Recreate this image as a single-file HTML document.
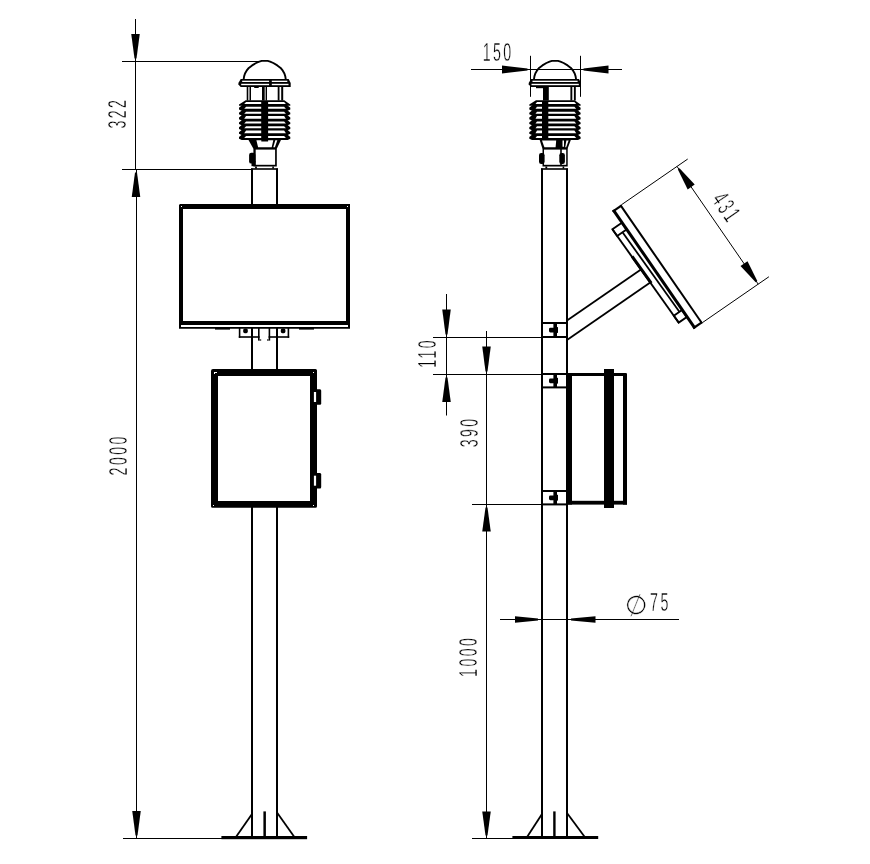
<!DOCTYPE html>
<html><head><meta charset="utf-8"><title>drawing</title>
<style>
html,body{margin:0;padding:0;background:#fff;}
svg{display:block;filter:grayscale(1)}
.t{font-family:"Liberation Sans","DejaVu Sans",sans-serif;}
line{stroke:#000}
</style></head><body>
<svg width="870" height="864" viewBox="0 0 870 864">
<rect x="0" y="0" width="870" height="864" fill="#fff"/>
<path d="M243.60 79.60 L244.10 76.40 L245.00 73.50 L246.60 70.70 L248.80 67.90 L252.10 65.40 L256.10 63.00 L259.30 61.60 L261.70 60.90 L267.70 60.90 L270.10 61.60 L273.30 63.00 L277.30 65.40 L280.60 67.90 L282.80 70.70 L284.40 73.50 L285.30 76.40 L285.80 79.60" fill="none" stroke="#000" stroke-width="1.9" stroke-linejoin="round"/>
<polygon points="238.40,82.90 240.70,79.00 288.70,79.00 290.70,82.90 290.70,86.90 240.70,86.90 238.40,84.50" fill="#000" stroke="none" stroke-width="1" />
<rect x="242.20" y="80.70" width="45.10" height="1.30" fill="#fff" stroke="none" />
<rect x="241.20" y="83.80" width="47.30" height="1.40" fill="#fff" stroke="none" />
<rect x="269.10" y="79.50" width="2.70" height="7.00" fill="#000" stroke="none" />
<rect x="246.70" y="86.50" width="1.60" height="14.00" fill="#000" stroke="none" />
<rect x="249.50" y="86.50" width="1.50" height="14.00" fill="#000" stroke="none" />
<rect x="262.00" y="86.50" width="2.70" height="14.00" fill="#000" stroke="none" />
<rect x="265.60" y="86.50" width="1.40" height="14.00" fill="#000" stroke="none" />
<rect x="277.70" y="86.50" width="1.80" height="14.00" fill="#000" stroke="none" />
<rect x="281.20" y="86.50" width="2.00" height="14.00" fill="#000" stroke="none" />
<rect x="254.20" y="86.90" width="4.50" height="1.10" fill="#000" stroke="none" />
<polygon points="245.70,100.20 284.30,100.20 290.30,104.40 290.30,105.80 239.00,105.80 239.00,104.40" fill="#000" stroke="none" stroke-width="1" />
<polygon points="242.30,105.07 287.10,105.07 290.30,107.87 290.30,109.47 287.70,110.67 241.70,110.67 239.00,109.47 239.00,107.87" fill="#000" stroke="none" stroke-width="1" />
<polygon points="242.30,109.94 287.10,109.94 290.30,112.74 290.30,114.34 287.70,115.54 241.70,115.54 239.00,114.34 239.00,112.74" fill="#000" stroke="none" stroke-width="1" />
<polygon points="242.30,114.81 287.10,114.81 290.30,117.61 290.30,119.21 287.70,120.41 241.70,120.41 239.00,119.21 239.00,117.61" fill="#000" stroke="none" stroke-width="1" />
<polygon points="242.30,119.68 287.10,119.68 290.30,122.48 290.30,124.08 287.70,125.28 241.70,125.28 239.00,124.08 239.00,122.48" fill="#000" stroke="none" stroke-width="1" />
<polygon points="242.30,124.55 287.10,124.55 290.30,127.35 290.30,128.95 287.70,130.15 241.70,130.15 239.00,128.95 239.00,127.35" fill="#000" stroke="none" stroke-width="1" />
<polygon points="242.30,129.42 287.10,129.42 290.30,132.22 290.30,133.82 287.70,135.02 241.70,135.02 239.00,133.82 239.00,132.22" fill="#000" stroke="none" stroke-width="1" />
<polygon points="242.30,134.29 287.10,134.29 290.30,137.09 290.30,138.69 287.70,139.89 241.70,139.89 239.00,138.69 239.00,137.09" fill="#000" stroke="none" stroke-width="1" />
<polygon points="246.10,101.90 261.20,101.90 261.20,103.90 244.20,103.90" fill="#fff" stroke="none" stroke-width="1" />
<polygon points="268.10,101.90 284.10,101.90 285.90,103.90 268.10,103.90" fill="#fff" stroke="none" stroke-width="1" />
<polygon points="246.10,106.77 261.20,106.77 261.20,108.77 244.20,108.77" fill="#fff" stroke="none" stroke-width="1" />
<polygon points="268.10,106.77 284.10,106.77 285.90,108.77 268.10,108.77" fill="#fff" stroke="none" stroke-width="1" />
<polygon points="246.10,111.64 261.20,111.64 261.20,113.64 244.20,113.64" fill="#fff" stroke="none" stroke-width="1" />
<polygon points="268.10,111.64 284.10,111.64 285.90,113.64 268.10,113.64" fill="#fff" stroke="none" stroke-width="1" />
<polygon points="246.10,116.01 261.20,116.01 261.20,118.71 244.20,118.71" fill="#fff" stroke="none" stroke-width="1" />
<polygon points="268.10,116.01 284.10,116.01 285.90,118.71 268.10,118.71" fill="#fff" stroke="none" stroke-width="1" />
<polygon points="246.10,121.38 261.20,121.38 261.20,123.38 244.20,123.38" fill="#fff" stroke="none" stroke-width="1" />
<polygon points="268.10,121.38 284.10,121.38 285.90,123.38 268.10,123.38" fill="#fff" stroke="none" stroke-width="1" />
<polygon points="246.10,126.25 261.20,126.25 261.20,128.25 244.20,128.25" fill="#fff" stroke="none" stroke-width="1" />
<polygon points="268.10,126.25 284.10,126.25 285.90,128.25 268.10,128.25" fill="#fff" stroke="none" stroke-width="1" />
<polygon points="246.10,130.62 261.20,130.62 261.20,133.32 244.20,133.32" fill="#fff" stroke="none" stroke-width="1" />
<polygon points="268.10,130.62 284.10,130.62 285.90,133.32 268.10,133.32" fill="#fff" stroke="none" stroke-width="1" />
<polygon points="246.10,135.99 261.20,135.99 261.20,137.99 244.20,137.99" fill="#fff" stroke="none" stroke-width="1" />
<polygon points="268.10,135.99 284.10,135.99 285.90,137.99 268.10,137.99" fill="#fff" stroke="none" stroke-width="1" />
<polygon points="248.20,139.60 281.20,139.60 276.90,148.60 253.30,148.60" fill="#000" stroke="none" stroke-width="1" />
<polygon points="256.40,140.20 261.30,140.20 261.30,141.60 268.10,141.60 268.10,140.20 273.30,140.20 271.70,147.30 258.10,147.30" fill="#fff" stroke="none" stroke-width="1" />
<polygon points="275.30,140.20 277.30,140.20 274.90,147.30 273.30,147.30" fill="#fff" stroke="none" stroke-width="1" />
<rect x="253.40" y="148.00" width="23.40" height="18.50" fill="#000" stroke="none" />
<rect x="255.70" y="149.60" width="19.40" height="15.20" fill="#fff" stroke="none" />
<rect x="249.10" y="152.8" width="6.3" height="10.8" rx="2.2" fill="#000"/>
<rect x="251.50" y="161.00" width="3.90" height="5.20" fill="#000" stroke="none" />
<rect x="255.10" y="166.50" width="1.80" height="2.10" fill="#000" stroke="none" />
<rect x="272.30" y="166.50" width="1.60" height="2.10" fill="#000" stroke="none" />
<rect x="251.00" y="168.60" width="2.00" height="36.40" fill="#000" stroke="none" />
<rect x="251.00" y="328.00" width="2.00" height="42.00" fill="#000" stroke="none" />
<rect x="251.00" y="507.00" width="2.00" height="329.50" fill="#000" stroke="none" />
<rect x="276.00" y="168.60" width="2.00" height="36.40" fill="#000" stroke="none" />
<rect x="276.00" y="328.00" width="2.00" height="42.00" fill="#000" stroke="none" />
<rect x="276.00" y="507.00" width="2.00" height="329.50" fill="#000" stroke="none" />
<rect x="251.00" y="168.20" width="27.00" height="1.60" fill="#000" stroke="none" />
<path fill="#000" fill-rule="evenodd" d="M180 204H350V328.8H179V205Z M183 209V321H346V209Z M181 325H348V327H181Z"/>
<rect x="181.00" y="206.00" width="1.00" height="1.00" fill="#fff" stroke="none" />
<rect x="347.00" y="206.00" width="1.00" height="1.00" fill="#fff" stroke="none" />
<rect x="299.00" y="328.00" width="15.00" height="1.60" fill="#000" stroke="none" />
<rect x="215.00" y="328.00" width="15.00" height="1.60" fill="#000" stroke="none" />
<rect x="238.80" y="328.00" width="1.60" height="9.80" fill="#000" stroke="none" />
<rect x="287.60" y="328.00" width="1.60" height="9.80" fill="#000" stroke="none" />
<rect x="238.80" y="336.20" width="20.80" height="1.60" fill="#000" stroke="none" />
<rect x="268.60" y="336.20" width="20.60" height="1.60" fill="#000" stroke="none" />
<rect x="258.00" y="328.00" width="1.60" height="12.60" fill="#000" stroke="none" />
<rect x="268.60" y="328.00" width="1.60" height="12.60" fill="#000" stroke="none" />
<rect x="259.60" y="339.40" width="1.60" height="1.20" fill="#000" stroke="none" />
<rect x="267.00" y="339.40" width="1.60" height="1.20" fill="#000" stroke="none" />
<rect x="243.2" y="328.4" width="4.6" height="4.8" rx="1.6" fill="#000"/>
<rect x="280.8" y="328.4" width="4.6" height="4.8" rx="1.6" fill="#000"/>
<path fill="#000" fill-rule="evenodd" d="M213 369H315.5Q317 369 317 370.5V506.3Q317 507.8 315.5 507.8H212.5Q211 507.8 211 506.3V371Q211 369 213 369Z M218 376V501H310V376Z"/>
<rect x="313.00" y="372.00" width="1.00" height="1.00" fill="#fff" stroke="none" />
<rect x="213.00" y="505.00" width="1.00" height="1.00" fill="#fff" stroke="none" />
<rect x="313.00" y="505.00" width="1.00" height="1.00" fill="#fff" stroke="none" />
<rect x="214.00" y="372.00" width="3.00" height="1.00" fill="#fff" stroke="none" />
<rect x="214.00" y="372.00" width="1.00" height="2.00" fill="#fff" stroke="none" />
<path fill="#000" d="M316 389.3H320Q321.2 389.3 321.2 390.8V403.3Q321.2 404.8 320 404.8H316Z"/>
<rect x="313.90" y="392.00" width="2.20" height="10.00" fill="#fff" stroke="none" />
<path fill="#000" d="M316 473.0H320Q321.2 473.0 321.2 474.5V487.0Q321.2 488.5 320 488.5H316Z"/>
<rect x="313.90" y="475.70" width="2.20" height="10.00" fill="#fff" stroke="none" />
<rect x="221.40" y="836.00" width="85.70" height="3.20" fill="#000" stroke="none" />
<line x1="252.00" y1="814.00" x2="236.30" y2="836.50" stroke-width="1.8" />
<line x1="277.00" y1="812.60" x2="294.00" y2="836.50" stroke-width="1.8" />
<rect x="263.40" y="811.40" width="2.50" height="25.10" fill="#000" stroke="none" />
<rect x="135.00" y="19.00" width="1.00" height="151.00" fill="#000" stroke="none" />
<rect x="136.00" y="170.00" width="1.00" height="669.00" fill="#000" stroke="none" />
<rect x="122.00" y="61.00" width="136.00" height="1.00" fill="#000" stroke="none" />
<rect x="122.00" y="169.00" width="130.00" height="1.00" fill="#000" stroke="none" />
<rect x="123.00" y="838.00" width="99.00" height="1.00" fill="#000" stroke="none" />
<polygon points="136.50,58.50 139.75,34.00 131.25,34.00 134.50,58.50" fill="#000" stroke="none" stroke-width="1" />
<polygon points="135.00,172.50 131.75,197.00 140.25,197.00 137.00,172.50" fill="#000" stroke="none" stroke-width="1" />
<polygon points="137.50,835.50 140.75,811.00 132.25,811.00 135.50,835.50" fill="#000" stroke="none" stroke-width="1" />
<text transform="translate(126.40 114.30) rotate(-90) scale(0.56 1)" x="2.15" font-size="25.4" letter-spacing="4.3" text-anchor="middle" fill="#000" stroke="#fff" stroke-width="0.45" class="t">322</text>
<text transform="translate(127.00 456.00) rotate(-90) scale(0.56 1)" x="2.15" font-size="25.4" letter-spacing="4.3" text-anchor="middle" fill="#000" stroke="#fff" stroke-width="0.45" class="t">2000</text>
<path d="M533.90 79.60 L534.40 76.40 L535.30 73.50 L536.90 70.70 L539.10 67.90 L542.40 65.40 L546.40 63.00 L549.60 61.60 L552.00 60.90 L558.00 60.90 L560.40 61.60 L563.60 63.00 L567.60 65.40 L570.90 67.90 L573.10 70.70 L574.70 73.50 L575.60 76.40 L576.10 79.60" fill="none" stroke="#000" stroke-width="1.9" stroke-linejoin="round"/>
<polygon points="528.70,82.90 531.00,79.00 579.00,79.00 581.00,82.90 581.00,86.90 531.00,86.90 528.70,84.50" fill="#000" stroke="none" stroke-width="1" />
<rect x="532.50" y="80.70" width="45.10" height="1.30" fill="#fff" stroke="none" />
<rect x="531.50" y="83.80" width="47.30" height="1.40" fill="#fff" stroke="none" />
<rect x="543.00" y="86.50" width="5.80" height="14.00" fill="#000" stroke="none" />
<rect x="536.00" y="86.90" width="7.00" height="1.30" fill="#000" stroke="none" />
<rect x="570.40" y="86.50" width="1.90" height="14.00" fill="#000" stroke="none" />
<rect x="573.90" y="86.50" width="1.90" height="14.00" fill="#000" stroke="none" />
<polygon points="536.00,100.20 574.60,100.20 580.60,104.40 580.60,105.80 529.30,105.80 529.30,104.40" fill="#000" stroke="none" stroke-width="1" />
<polygon points="532.60,105.07 577.40,105.07 580.60,107.87 580.60,109.47 578.00,110.67 532.00,110.67 529.30,109.47 529.30,107.87" fill="#000" stroke="none" stroke-width="1" />
<polygon points="532.60,109.94 577.40,109.94 580.60,112.74 580.60,114.34 578.00,115.54 532.00,115.54 529.30,114.34 529.30,112.74" fill="#000" stroke="none" stroke-width="1" />
<polygon points="532.60,114.81 577.40,114.81 580.60,117.61 580.60,119.21 578.00,120.41 532.00,120.41 529.30,119.21 529.30,117.61" fill="#000" stroke="none" stroke-width="1" />
<polygon points="532.60,119.68 577.40,119.68 580.60,122.48 580.60,124.08 578.00,125.28 532.00,125.28 529.30,124.08 529.30,122.48" fill="#000" stroke="none" stroke-width="1" />
<polygon points="532.60,124.55 577.40,124.55 580.60,127.35 580.60,128.95 578.00,130.15 532.00,130.15 529.30,128.95 529.30,127.35" fill="#000" stroke="none" stroke-width="1" />
<polygon points="532.60,129.42 577.40,129.42 580.60,132.22 580.60,133.82 578.00,135.02 532.00,135.02 529.30,133.82 529.30,132.22" fill="#000" stroke="none" stroke-width="1" />
<polygon points="532.60,134.29 577.40,134.29 580.60,137.09 580.60,138.69 578.00,139.89 532.00,139.89 529.30,138.69 529.30,137.09" fill="#000" stroke="none" stroke-width="1" />
<polygon points="537.00,101.90 542.00,101.90 542.00,103.90 535.50,103.90" fill="#fff" stroke="none" stroke-width="1" />
<polygon points="548.30,101.90 574.40,101.90 576.20,103.90 548.30,103.90" fill="#fff" stroke="none" stroke-width="1" />
<polygon points="537.00,106.77 542.00,106.77 542.00,108.77 535.50,108.77" fill="#fff" stroke="none" stroke-width="1" />
<polygon points="548.30,106.77 574.40,106.77 576.20,108.77 548.30,108.77" fill="#fff" stroke="none" stroke-width="1" />
<polygon points="537.00,111.64 542.00,111.64 542.00,113.64 535.50,113.64" fill="#fff" stroke="none" stroke-width="1" />
<polygon points="548.30,111.64 574.40,111.64 576.20,113.64 548.30,113.64" fill="#fff" stroke="none" stroke-width="1" />
<polygon points="537.00,116.01 542.00,116.01 542.00,118.71 535.50,118.71" fill="#fff" stroke="none" stroke-width="1" />
<polygon points="548.30,116.01 574.40,116.01 576.20,118.71 548.30,118.71" fill="#fff" stroke="none" stroke-width="1" />
<polygon points="537.00,121.38 542.00,121.38 542.00,123.38 535.50,123.38" fill="#fff" stroke="none" stroke-width="1" />
<polygon points="548.30,121.38 574.40,121.38 576.20,123.38 548.30,123.38" fill="#fff" stroke="none" stroke-width="1" />
<polygon points="537.00,126.25 542.00,126.25 542.00,128.25 535.50,128.25" fill="#fff" stroke="none" stroke-width="1" />
<polygon points="548.30,126.25 574.40,126.25 576.20,128.25 548.30,128.25" fill="#fff" stroke="none" stroke-width="1" />
<polygon points="537.00,130.62 542.00,130.62 542.00,133.32 535.50,133.32" fill="#fff" stroke="none" stroke-width="1" />
<polygon points="548.30,130.62 574.40,130.62 576.20,133.32 548.30,133.32" fill="#fff" stroke="none" stroke-width="1" />
<polygon points="537.00,135.99 542.00,135.99 542.00,137.99 535.50,137.99" fill="#fff" stroke="none" stroke-width="1" />
<polygon points="548.30,135.99 574.40,135.99 576.20,137.99 548.30,137.99" fill="#fff" stroke="none" stroke-width="1" />
<polygon points="539.50,139.60 571.00,139.60 567.60,148.60 542.40,148.60" fill="#000" stroke="none" stroke-width="1" />
<polygon points="542.00,140.40 556.20,140.40 555.60,147.20 544.40,147.20" fill="#fff" stroke="none" stroke-width="1" />
<polygon points="562.50,140.40 564.00,140.40 564.00,146.80 562.50,146.80" fill="#fff" stroke="none" stroke-width="1" />
<polygon points="566.40,140.40 568.60,140.40 566.20,147.20 565.20,147.20" fill="#fff" stroke="none" stroke-width="1" />
<rect x="542.50" y="148.00" width="25.20" height="18.50" fill="#000" stroke="none" />
<rect x="544.00" y="149.60" width="16.20" height="15.20" fill="#fff" stroke="none" />
<rect x="561.80" y="149.60" width="4.40" height="15.20" fill="#fff" stroke="none" />
<rect x="539.00" y="153" width="5.6" height="11" rx="2.2" fill="#000"/>
<rect x="559.30" y="153" width="5.6" height="11" rx="2.2" fill="#000"/>
<rect x="545.40" y="166.50" width="1.80" height="2.10" fill="#000" stroke="none" />
<rect x="562.60" y="166.50" width="1.60" height="2.10" fill="#000" stroke="none" />
<rect x="541.00" y="168.60" width="2.00" height="667.90" fill="#000" stroke="none" />
<rect x="566.00" y="168.60" width="2.00" height="667.90" fill="#000" stroke="none" />
<rect x="541.00" y="168.20" width="27.00" height="1.60" fill="#000" stroke="none" />
<rect x="542.00" y="322.00" width="25.00" height="2.00" fill="#000" stroke="none" />
<rect x="542.00" y="336.00" width="25.00" height="2.00" fill="#000" stroke="none" />
<rect x="553.40" y="323.00" width="3.60" height="14.00" fill="#000" stroke="none" />
<rect x="549" y="327.70" width="6" height="4.8" rx="1.4" fill="#000"/>
<rect x="556.00" y="327.10" width="2.00" height="5.80" fill="#000" stroke="none" />
<rect x="542.00" y="373.00" width="25.00" height="2.00" fill="#000" stroke="none" />
<rect x="542.00" y="386.40" width="25.00" height="2.00" fill="#000" stroke="none" />
<rect x="553.40" y="374.00" width="3.60" height="13.40" fill="#000" stroke="none" />
<rect x="549" y="378.40" width="6" height="4.8" rx="1.4" fill="#000"/>
<rect x="556.00" y="377.80" width="2.00" height="5.80" fill="#000" stroke="none" />
<rect x="542.00" y="490.00" width="25.00" height="2.00" fill="#000" stroke="none" />
<rect x="542.00" y="503.40" width="25.00" height="2.00" fill="#000" stroke="none" />
<rect x="553.40" y="491.00" width="3.60" height="13.40" fill="#000" stroke="none" />
<rect x="549" y="495.40" width="6" height="4.8" rx="1.4" fill="#000"/>
<rect x="556.00" y="494.80" width="2.00" height="5.80" fill="#000" stroke="none" />
<line x1="567.00" y1="320.44" x2="640.94" y2="269.43" stroke-width="1.8" />
<line x1="567.00" y1="340.00" x2="650.26" y2="282.56" stroke-width="1.8" />
<polygon points="613.57,210.80 620.90,205.74 701.53,322.63 694.21,327.68" fill="#fff" stroke="none" stroke-width="1" />
<line x1="620.44" y1="205.09" x2="701.99" y2="323.29" stroke-width="2.0" />
<line x1="613.25" y1="209.81" x2="695.02" y2="328.34" stroke-width="3.0" />
<line x1="612.64" y1="211.56" x2="621.70" y2="205.32" stroke-width="2.2" />
<line x1="693.16" y1="328.28" x2="702.22" y2="322.04" stroke-width="2.2" />
<line x1="612.38" y1="229.23" x2="678.99" y2="322.99" stroke-width="1.9" />
<line x1="632.12" y1="256.32" x2="651.23" y2="283.23" stroke-width="3.0" />
<line x1="622.69" y1="232.45" x2="679.37" y2="311.80" stroke-width="1.8" />
<polygon points="621.86,222.82 626.52,229.57 617.19,236.00 612.44,229.32" fill="none" stroke="#000" stroke-width="1.9" />
<polygon points="682.06,310.07 686.83,316.98 678.70,322.59 673.84,315.74" fill="none" stroke="#000" stroke-width="1.9" />
<line x1="621.44" y1="204.77" x2="687.70" y2="159.05" stroke-width="1" />
<line x1="702.64" y1="322.47" x2="768.90" y2="276.76" stroke-width="1" />
<line x1="677.00" y1="166.44" x2="758.20" y2="284.14" stroke-width="1" />
<polygon points="677.88,169.47 687.70,189.43 694.69,184.60 679.53,168.34" fill="#000" stroke="none" stroke-width="1" />
<polygon points="757.32,281.11 747.50,261.15 740.51,265.98 755.68,282.24" fill="#000" stroke="none" stroke-width="1" />
<text transform="translate(719.05 211.54) rotate(55.4) scale(0.56 1)" x="2.15" font-size="25.4" letter-spacing="4.3" text-anchor="middle" fill="#000" stroke="#fff" stroke-width="0.45" class="t">431</text>
<rect x="567.00" y="373.00" width="5.00" height="131.60" fill="#000" stroke="none" />
<rect x="567.00" y="373.00" width="59.50" height="3.00" fill="#000" stroke="none" />
<rect x="567.00" y="500.80" width="60.00" height="3.80" fill="#000" stroke="none" />
<rect x="623.00" y="373.60" width="4.00" height="131.00" fill="#000" stroke="none" />
<rect x="604.00" y="369.00" width="10.00" height="139.00" fill="#000" stroke="none" />
<rect x="512.40" y="836.00" width="85.80" height="3.00" fill="#000" stroke="none" />
<line x1="542.00" y1="814.00" x2="527.40" y2="836.50" stroke-width="1.8" />
<line x1="567.00" y1="813.00" x2="584.40" y2="836.50" stroke-width="1.8" />
<rect x="553.20" y="811.40" width="2.40" height="25.10" fill="#000" stroke="none" />
<rect x="471.00" y="69.00" width="151.00" height="1.00" fill="#000" stroke="none" />
<rect x="530.00" y="55.80" width="1.00" height="41.00" fill="#000" stroke="none" />
<rect x="580.00" y="55.80" width="1.00" height="41.00" fill="#000" stroke="none" />
<polygon points="527.50,68.50 502.00,65.60 502.00,73.40 527.50,70.50" fill="#000" stroke="none" stroke-width="1" />
<polygon points="583.50,70.50 608.50,73.40 608.50,65.60 583.50,68.50" fill="#000" stroke="none" stroke-width="1" />
<text transform="translate(497.00 61.00) rotate(0) scale(0.56 1)" x="2.15" font-size="25.4" letter-spacing="4.3" text-anchor="middle" fill="#000" stroke="#fff" stroke-width="0.45" class="t">150</text>
<rect x="446.00" y="294.00" width="1.00" height="121.50" fill="#000" stroke="none" />
<rect x="433.00" y="337.00" width="109.00" height="1.00" fill="#000" stroke="none" />
<rect x="433.00" y="374.00" width="109.00" height="1.00" fill="#000" stroke="none" />
<polygon points="447.50,334.50 450.75,309.50 442.25,309.50 445.50,334.50" fill="#000" stroke="none" stroke-width="1" />
<polygon points="445.50,377.50 442.25,402.00 450.75,402.00 447.50,377.50" fill="#000" stroke="none" stroke-width="1" />
<text transform="translate(436.20 354.00) rotate(-90) scale(0.56 1)" x="2.15" font-size="25.4" letter-spacing="4.3" text-anchor="middle" fill="#000" stroke="#fff" stroke-width="0.45" class="t">110</text>
<rect x="486.00" y="331.00" width="1.00" height="508.00" fill="#000" stroke="none" />
<polygon points="487.50,371.50 490.75,346.50 482.25,346.50 485.50,371.50" fill="#000" stroke="none" stroke-width="1" />
<polygon points="485.50,507.50 482.25,531.50 490.75,531.50 487.50,507.50" fill="#000" stroke="none" stroke-width="1" />
<polygon points="487.50,835.50 490.75,811.50 482.25,811.50 485.50,835.50" fill="#000" stroke="none" stroke-width="1" />
<rect x="472.00" y="504.00" width="70.00" height="1.00" fill="#000" stroke="none" />
<rect x="472.00" y="838.00" width="41.00" height="1.00" fill="#000" stroke="none" />
<text transform="translate(477.60 433.00) rotate(-90) scale(0.56 1)" x="2.15" font-size="25.4" letter-spacing="4.3" text-anchor="middle" fill="#000" stroke="#fff" stroke-width="0.45" class="t">390</text>
<text transform="translate(477.40 657.50) rotate(-90) scale(0.56 1)" x="2.15" font-size="25.4" letter-spacing="4.3" text-anchor="middle" fill="#000" stroke="#fff" stroke-width="0.45" class="t">1000</text>
<rect x="500.00" y="619.00" width="179.00" height="1.00" fill="#000" stroke="none" />
<polygon points="538.00,618.50 515.00,616.25 515.00,622.75 538.00,620.50" fill="#000" stroke="none" stroke-width="1" />
<polygon points="571.00,620.50 595.50,622.75 595.50,616.25 571.00,618.50" fill="#000" stroke="none" stroke-width="1" />
<text x="636" y="614.2" transform="rotate(-17 636 604.8)" font-size="26" text-anchor="middle" fill="#000" stroke="#fff" stroke-width="0.4" class="t">∅</text>
<text transform="translate(659.20 611.00) rotate(0) scale(0.56 1)" x="2.15" font-size="25.4" letter-spacing="4.3" text-anchor="middle" fill="#000" stroke="#fff" stroke-width="0.45" class="t">75</text>
</svg>
</body></html>
